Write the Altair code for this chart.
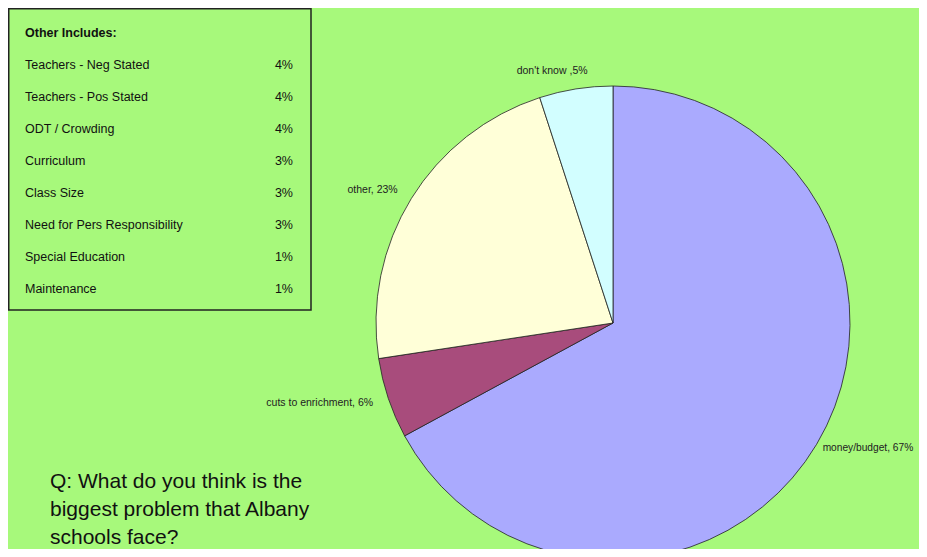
import altair as alt
import pandas as pd

# Pie data (shares) and label text
categories = ["money/budget", "cuts to enrichment", "other", "don't know"]
shares = [67.1, 5.5, 22.4, 5.0]
slice_labels = ["money/budget, 67%", "cuts to enrichment, 6%", "other, 23%", "don't know ,5%"]
label_side = ["R", "L", "L", "T"]
slice_colors = ["#AAAAFE", "#A84C7C", "#FFFFD8", "#D2FEFF"]

# "Other Includes" breakdown
other_items = ["Teachers - Neg Stated", "Teachers - Pos Stated", "ODT / Crowding", "Curriculum",
               "Class Size", "Need for Pers Responsibility", "Special Education", "Maintenance"]
other_pcts = ["4%", "4%", "4%", "3%", "3%", "3%", "1%", "1%"]

question_lines = ["Q: What do you think is the", "biggest problem that Albany", "schools face?"]

BG = "#A7F97B"
FONT = "Liberation Sans"
CX, CY, R = 605, 315, 237

pie_df = pd.DataFrame({"cat": categories, "share": shares, "label": slice_labels,
                       "side": label_side, "ord": list(range(len(categories)))})
leg_df = pd.DataFrame({"item": other_items, "pct": other_pcts})

base = alt.Chart(pie_df).encode(
    theta=alt.Theta("share:Q", stack=True),
    order=alt.Order("ord:Q"),
    x=alt.value(CX), y=alt.value(CY),
)

pie = base.mark_arc(radius=R, stroke="#222222", strokeWidth=0.8).encode(
    color=alt.Color("cat:N", scale=alt.Scale(domain=categories, range=slice_colors), legend=None)
)

def label_layer(side, radius, align, dx=0, size=10.5):
    return base.transform_calculate(
        t=f"datum.side == '{side}' ? datum.label : ''"
    ).mark_text(radius=radius, align=align, baseline="middle", dx=dx,
                font=FONT, fontSize=size, color="#222222").encode(text="t:N")

lab_r = label_layer("R", 244, "left", size=10.2)
lab_l = label_layer("L", 253, "right")
lab_t = label_layer("T", 255, "center", dx=-21)

box = alt.Chart(pd.DataFrame({"a": [0]})).mark_rect(
    fillOpacity=0, stroke="#222222", strokeWidth=1.5
).encode(x=alt.value(0.75), x2=alt.value(303), y=alt.value(0.75), y2=alt.value(302))

box_title = alt.Chart(pd.DataFrame({"t": ["Other Includes:"]})).mark_text(
    align="left", baseline="middle", font=FONT, fontSize=12.5, fontWeight="bold", color="#111111"
).encode(x=alt.value(17), y=alt.value(25), text="t:N")

yscale = alt.Scale(domain=other_items, range=[57, 281], type="point", padding=0)
leg_items = alt.Chart(leg_df).mark_text(
    align="left", baseline="middle", font=FONT, fontSize=12.5, color="#111111"
).encode(x=alt.value(17), y=alt.Y("item:N", scale=yscale, axis=None), text="item:N")
leg_pcts = alt.Chart(leg_df).mark_text(
    align="right", baseline="middle", font=FONT, fontSize=12.5, color="#111111"
).encode(x=alt.value(285), y=alt.Y("item:N", scale=yscale, axis=None), text="pct:N")

q_layers = []
for i, line in enumerate(question_lines):
    q_layers.append(alt.Chart(pd.DataFrame({"t": [line]})).mark_text(
        align="left", baseline="middle", font=FONT, fontSize=21, color="#111111"
    ).encode(x=alt.value(42), y=alt.value(474 + 28 * i), text="t:N"))

chart = alt.layer(pie, lab_r, lab_l, lab_t, box, box_title, leg_items, leg_pcts, *q_layers).properties(
    width=911, height=541, autosize=alt.AutoSizeParams(type="none"), padding=0, background=BG
).configure_view(stroke=None)

chart.save("out.html", embed_options={"renderer": "svg", "actions": False})
